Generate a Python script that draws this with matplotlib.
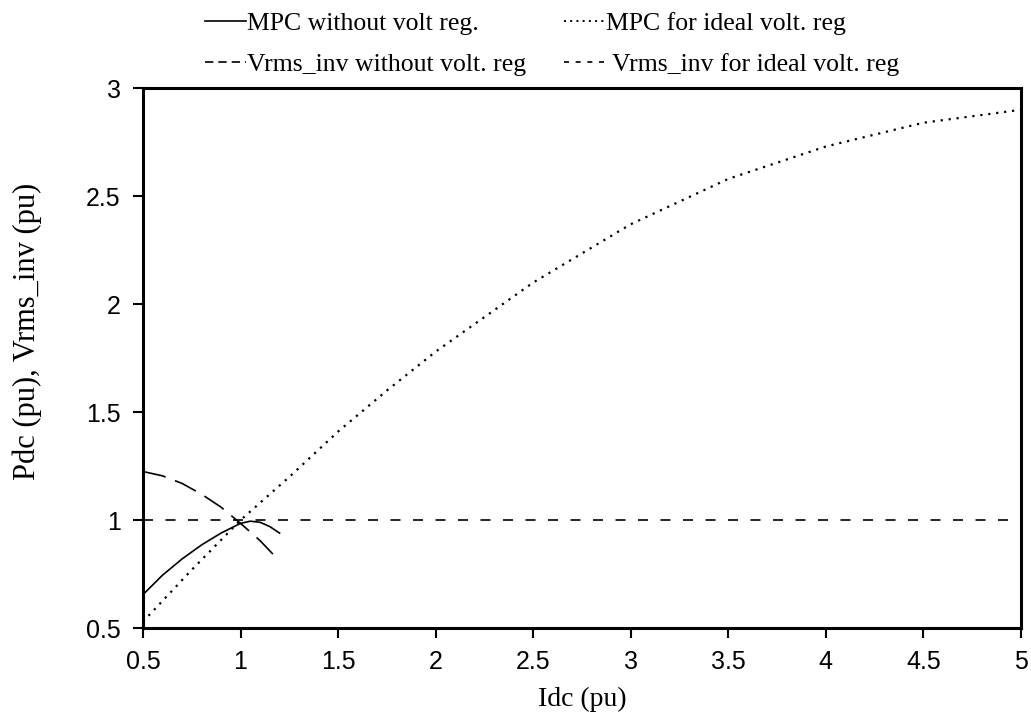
import numpy as np
import matplotlib
matplotlib.use("Agg")
import matplotlib.pyplot as plt
from matplotlib.lines import Line2D

# MPC for ideal voltage regulation (dotted)
idc_ideal = [0.5, 0.75, 1.0, 1.25, 1.5, 1.75, 2.0, 2.5, 3.0, 3.5, 4.0, 4.5, 5.0]
mpc_ideal = [0.53, 0.77, 1.0, 1.2, 1.41, 1.6, 1.78, 2.1, 2.37, 2.58, 2.73, 2.84, 2.90]

# Vrms_inv for ideal voltage regulation (short dashes)
idc_vr_ideal = [0.5, 5.0]
vrms_ideal = [1.0, 1.0]

# MPC without voltage regulation (solid)
idc_nr = [0.5, 0.6, 0.7, 0.8, 0.9, 1.0, 1.05, 1.1, 1.15, 1.2]
mpc_nr = [0.655, 0.745, 0.82, 0.885, 0.94, 0.985, 0.995, 0.99, 0.97, 0.94]

# Vrms_inv without voltage regulation (long dashes)
idc_vnr = [0.5, 0.6, 0.7, 0.8, 0.9, 1.0, 1.1, 1.2]
vrms_nr = [1.225, 1.205, 1.17, 1.12, 1.06, 0.985, 0.905, 0.81]

xticks = [0.5, 1, 1.5, 2, 2.5, 3, 3.5, 4, 4.5, 5]
xticklabels = ["0.5", "1", "1.5", "2", "2.5", "3", "3.5", "4", "4.5", "5"]
yticks = [0.5, 1, 1.5, 2, 2.5, 3]
yticklabels = ["0.5", "1", "1.5", "2", "2.5", "3"]

labels = ["MPC without volt reg.", "Vrms_inv without volt. reg",
          "MPC for ideal volt. reg", " Vrms_inv for ideal volt. reg"]

fig = plt.figure(figsize=(10.31, 7.17), dpi=100)
ax = fig.add_axes([0.1387, 0.124, 0.8515, 0.753])

ax.plot(idc_nr, mpc_nr, color="black", lw=1.2, ls="-")
ax.plot(idc_ideal, mpc_ideal, color="black", lw=1.6, ls=(0, (1.0, 2.6)))
ax.plot(idc_vnr, vrms_nr, color="black", lw=1.2, ls=(0, (14, 6)))
ax.plot(idc_vr_ideal, vrms_ideal, color="black", lw=1.2, ls=(0, (6, 7.5)))

ax.set_xlim(0.5, 5)
ax.set_ylim(0.5, 3)
ax.set_xticks(xticks)
ax.set_xticklabels(xticklabels, family="Liberation Sans", fontsize=18)
ax.set_yticks(yticks)
ax.set_yticklabels(yticklabels, family="Liberation Sans", fontsize=18)
ax.tick_params(direction="out", length=7, width=1.5, pad=9)
for s in ax.spines.values():
    s.set_linewidth(2.2)

ax.set_xlabel("Idc (pu)", family="Liberation Serif", fontsize=20, labelpad=9)
ax.set_ylabel("Pdc (pu), Vrms_inv (pu)", family="Liberation Serif", fontsize=22)
ax.yaxis.set_label_coords(-0.115, 0.55)

# legend handles (patterns as drawn in the legend)
h1 = Line2D([], [], color="black", lw=1.2, ls="-")
h2 = Line2D([], [], color="black", lw=1.2, ls=(0, (5, 3)))
h3 = Line2D([], [], color="black", lw=1.4, ls=(0, (1.0, 2.2)))
h4 = Line2D([], [], color="black", lw=1.2, ls=(0, (3, 4)))

fig.legend(handles=[h1, h2, h3, h4], labels=labels, ncol=2, loc="upper left",
           bbox_to_anchor=(0.1765, 1.016), frameon=False,
           prop={"family": "Liberation Serif", "size": 18.5},
           handlelength=1.6, handletextpad=0.05, columnspacing=1.45,
           labelspacing=0.72)

fig.savefig("out.png", dpi=100)
